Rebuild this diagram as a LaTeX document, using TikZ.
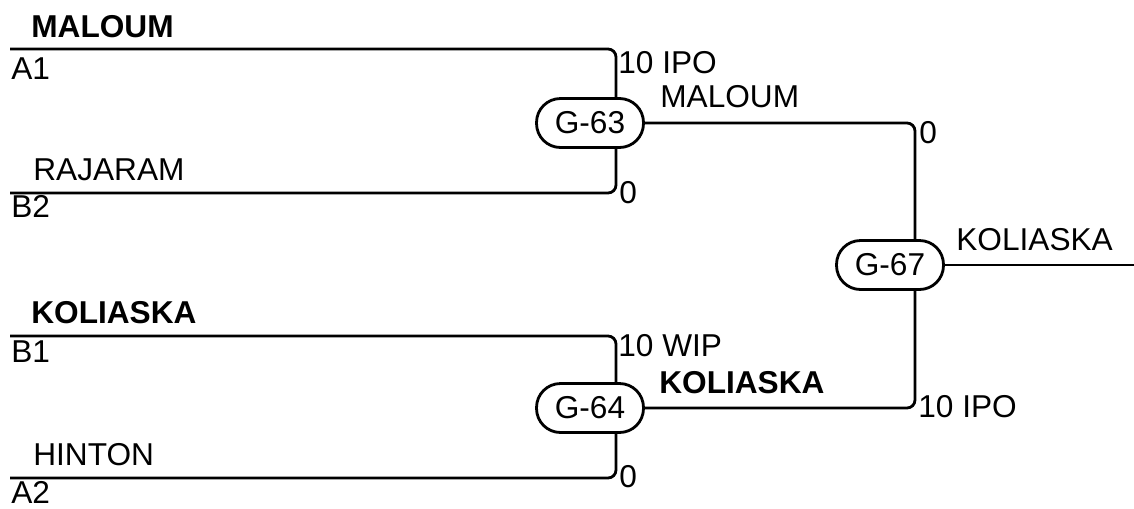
\documentclass[tikz,border=0pt]{standalone}
\usepackage{fontspec}
\setmainfont{Liberation Sans}
\begin{document}
\begin{tikzpicture}[x=0.02cm,y=-0.02cm,
  wire/.style={line width=1.6pt, rounded corners=0.16cm},
  game/.style={draw, line width=1.6pt, rounded corners=0.48cm, minimum width=2.14cm, minimum height=0.98cm, inner sep=0pt, font=\fontsize{18}{21}\selectfont},
  lbl/.style={anchor=base west, inner sep=0pt, font=\fontsize{18}{21}\selectfont},
  blbl/.style={lbl, font=\fontsize{18}{21}\selectfont\bfseries}]
\useasboundingbox (0,0) rectangle (1134,508);
% game nodes
\node[game] (g63) at (590,123) {G-63};
\node[game] (g64) at (590,408) {G-64};
\node[game] (g67) at (890,265) {G-67};
% line starts
\coordinate (a1) at (10,49);
\coordinate (b2) at (10,193);
\coordinate (b1) at (10,336);
\coordinate (a2) at (10,478);
\coordinate (out) at (1134,265);
% connectors
\draw[wire] (a1) -| ([xshift=0.52cm]g63.north);
\draw[wire] (b2) -| ([xshift=0.52cm]g63.south);
\draw[wire] (b1) -| ([xshift=0.52cm]g64.north);
\draw[wire] (a2) -| ([xshift=0.52cm]g64.south);
\draw[wire] (g63.east) -| ([xshift=0.5cm]g67.north);
\draw[wire] (g64.east) -| ([xshift=0.5cm]g67.south);
\draw[wire] (g67.east) -- (out);
% left labels
\node[blbl] (tMaloum) at (31,37) {MALOUM};
\node[lbl] (tA1) at (11,79) {A1};
\node[lbl] (tRajaram) at (33,180) {RAJARAM};
\node[lbl] (tB2) at (11,217) {B2};
\node[blbl] (tKoliaska) at (31,323) {KOLIASKA};
\node[lbl] (tB1) at (11,362) {B1};
\node[lbl] (tHinton) at (33,465) {HINTON};
\node[lbl] (tA2) at (11,503) {A2};
% middle labels
\node[lbl] (s1) at (618,73) {10 IPO};
\node[lbl] (w63) at (660,107) {MALOUM};
\node[lbl] (s2) at (619,203) {0};
\node[lbl] (s3) at (618,356) {10 WIP};
\node[blbl] (w64) at (659,393) {KOLIASKA};
\node[lbl] (s4) at (619,487) {0};
% right labels
\node[lbl] (s5) at (919,143) {0};
\node[lbl] (s6) at (918,417) {10 IPO};
\node[lbl] (w67) at (956,250) {KOLIASKA};
\end{tikzpicture}
\end{document}
